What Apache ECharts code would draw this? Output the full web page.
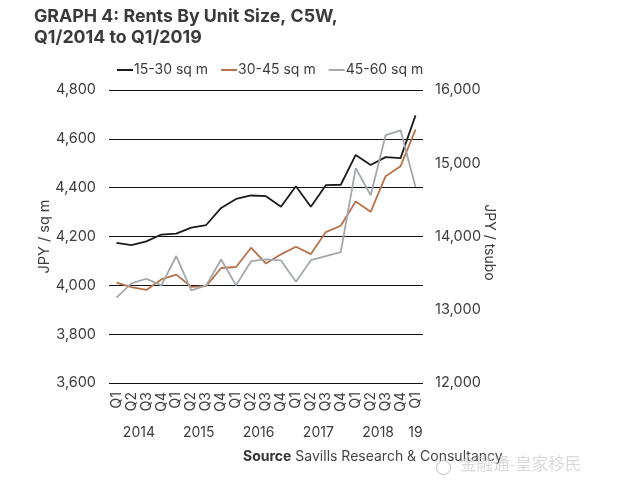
<!DOCTYPE html>
<html>
<head>
<meta charset="utf-8">
<style>html,body{margin:0;padding:0;background:#fff}#main{width:620px;height:488px}</style>
<script src="https://cdn.jsdelivr.net/npm/echarts@6/dist/echarts.min.js"></script>
</head>
<body>
<div id="main"></div>
<script>
var quarters = ['Q1','Q2','Q3','Q4','Q1','Q2','Q3','Q4','Q1','Q2','Q3','Q4','Q1','Q2','Q3','Q4','Q1','Q2','Q3','Q4','Q1'];
var yearLabels = ['2014','2015','2016','2017','2018','19'];
var yearPositions = [1.5, 5.5, 9.5, 13.5, 17.5, 20];
var small = [4174,4165,4180,4208,4212,4236,4247,4317,4354,4368,4365,4322,4406,4322,4410,4412,4534,4493,4525,4521,4696];
var medium = [4011,3993,3981,4024,4044,3994,3997,4071,4075,4154,4089,4127,4158,4128,4218,4244,4343,4301,4447,4488,4638];
var large = [3950,4008,4027,4000,4120,3979,4000,4106,4000,4099,4106,4102,4015,4103,4120,4136,4480,4369,4615,4635,4403];

var font = 'Inter';
var textColor = '#3c3c3c';

function line(name, data, color) {
    return {
        name: name,
        type: 'line',
        data: data,
        symbol: 'none',
        lineStyle: { color: color, width: 1.8 },
        itemStyle: { color: color }
    };
}

var chart = echarts.init(document.getElementById('main'));
chart.setOption({
    animation: false,
    backgroundColor: '#fff',
    textStyle: { fontFamily: font },
    title: {
        text: 'GRAPH 4: Rents By Unit Size, C5W,\nQ1/2014 to Q1/2019',
        left: 29,
        top: 1,
        textStyle: { fontSize: 17.8, fontWeight: 'bold', color: '#3a3a3a', lineHeight: 21, fontFamily: font }
    },
    legend: {
        top: 58,
        left: 112,
        itemWidth: 16,
        itemHeight: 2,
        itemGap: 13,
        icon: 'rect',
        textStyle: { fontSize: 14, color: textColor, padding: [0, 0, 0, -4] },
        data: ['15-30 sq m', '30-45 sq m', '45-60 sq m']
    },
    grid: { left: 109, right: 197, top: 90, height: 293 },
    xAxis: [{
        type: 'category',
        data: quarters,
        axisLine: { show: false },
        axisTick: { show: false },
        axisLabel: { rotate: 90, interval: 0, fontSize: 14, color: textColor, margin: 9 }
    }, {
        type: 'value',
        position: 'bottom',
        min: -0.5,
        max: 20.5,
        splitLine: { show: false },
        axisLine: { show: false },
        axisTick: { show: false },
        axisLabel: {
            customValues: yearPositions,
            margin: 43,
            fontSize: 14,
            color: textColor,
            formatter: function (v) { return yearLabels[yearPositions.indexOf(v)]; }
        }
    }],
    yAxis: [{
        type: 'value',
        min: 3600,
        max: 4800,
        interval: 200,
        name: 'JPY / sq m',
        nameLocation: 'middle',
        nameGap: 57,
        nameMoveOverlap: false,
        nameTextStyle: { fontSize: 14.5, color: textColor },
        axisLine: { show: false },
        axisTick: { show: false },
        splitLine: { lineStyle: { color: '#111', width: 1.2 } },
        axisLabel: {
            fontSize: 14.5,
            color: textColor,
            margin: 13,
            formatter: function (v) { return echarts.format.addCommas(v); }
        }
    }, {
        type: 'value',
        position: 'right',
        min: 12000,
        max: 16000,
        interval: 1000,
        name: 'JPY / tsubo',
        nameLocation: 'middle',
        nameGap: 59,
        nameMoveOverlap: false,
        nameRotate: -90,
        nameTextStyle: { fontSize: 14, color: textColor, padding: [0, 0, 0, 12] },
        axisLine: { show: false },
        axisTick: { show: false },
        splitLine: { show: false },
        axisLabel: {
            fontSize: 14.5,
            color: textColor,
            margin: 12,
            formatter: function (v) { return echarts.format.addCommas(v); }
        }
    }],
    graphic: [{
        type: 'text',
        left: 243,
        top: 450,
        style: {
            text: '{b|Source} Savills Research & Consultancy',
            rich: {
                b: { font: 'bold 14px Inter', fill: '#333' }
            },
            font: '14px Inter',
            fill: '#444'
        }
    }, {
        type: 'circle',
        left: 434,
        top: 458,
        shape: { r: 7 },
        style: { fill: 'none', stroke: '#bbb', lineWidth: 1 }
    }, {
        type: 'text',
        left: 460,
        top: 455,
        style: {
            text: '金融通-皇家移民',
            font: '16.5px "Noto Sans CJK SC"',
            fill: 'rgba(205,205,205,0.75)'
        }
    }],
    series: [
        line('15-30 sq m', small, '#1c1c1c'),
        line('30-45 sq m', medium, '#b8724a'),
        line('45-60 sq m', large, '#a3a8ad')
    ]
});
</script>
</body>
</html>
